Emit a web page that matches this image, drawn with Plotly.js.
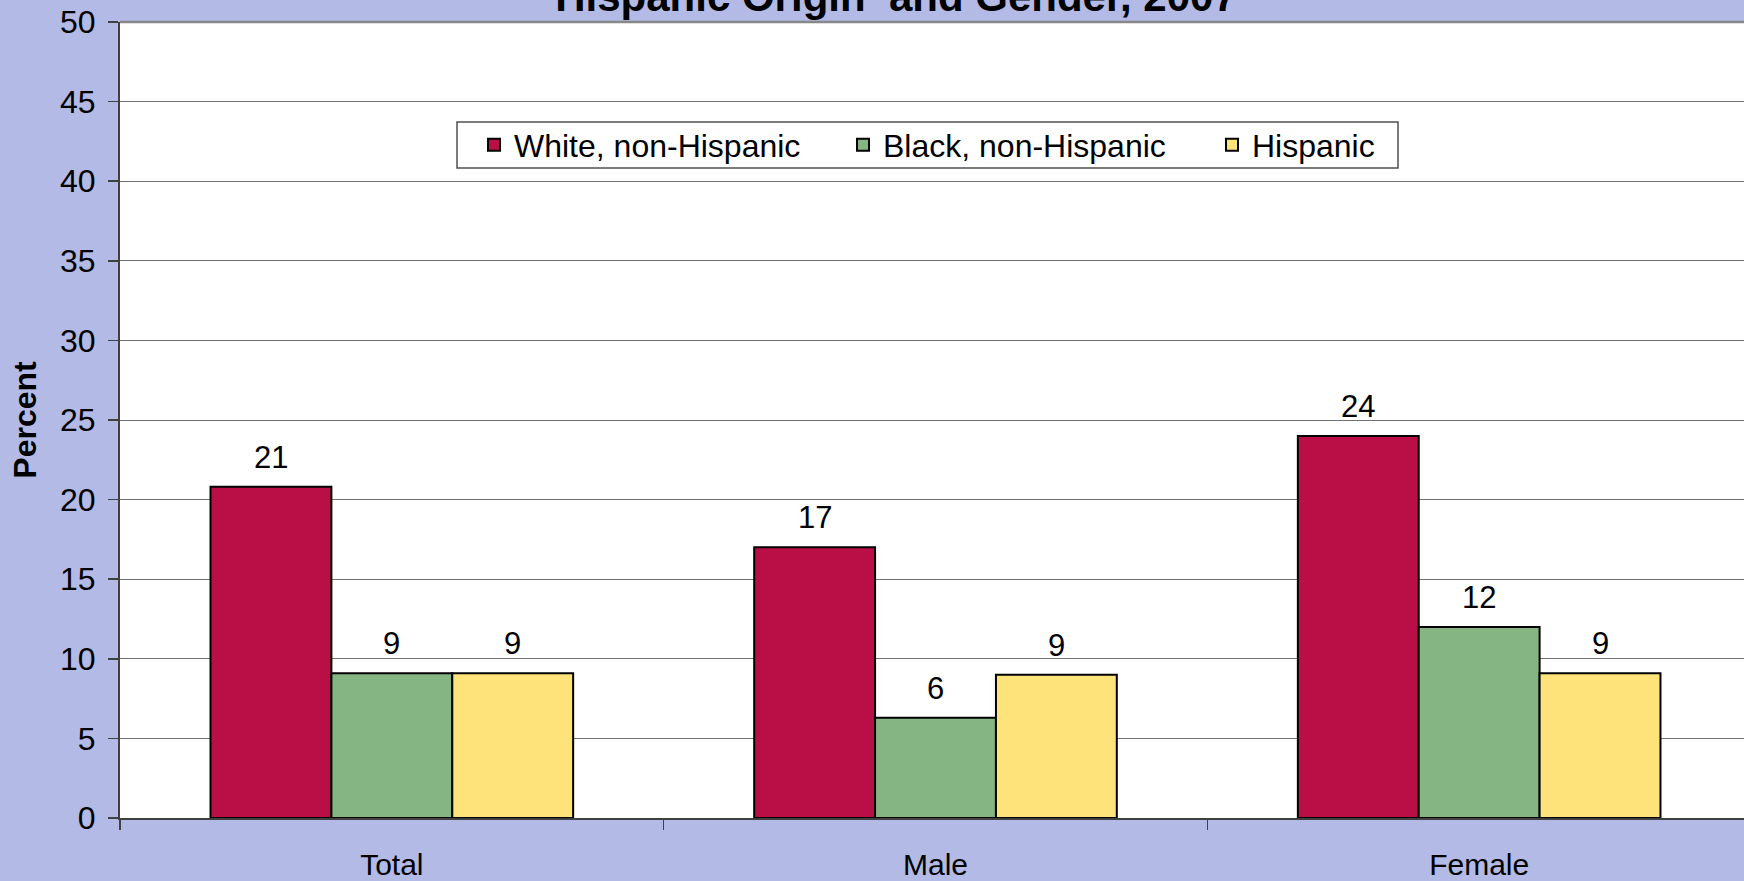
<!DOCTYPE html>
<html>
<head>
<meta charset="utf-8">
<script src="https://cdn.plot.ly/plotly-3.0.1.min.js"></script>
<style>
  html, body { margin: 0; padding: 0; overflow: hidden; background: #b3bae5; }
  #chart { width: 1760px; height: 881px; }
</style>
</head>
<body>
<div id="chart"></div>
<script>
// ---- data ----
const categories = ["Total", "Male", "Female"];
const seriesNames = ["White, non-Hispanic", "Black, non-Hispanic", "Hispanic"];
const whiteValues = [20.8, 17.0, 24.0];
const blackValues = [9.1, 6.3, 12.0];
const hispanicValues = [9.1, 9.0, 9.1];
const yTickValues = [0, 5, 10, 15, 20, 25, 30, 35, 40, 45, 50];
const titleText = "Hispanic Origin  and Gender, 2007";
const yTitleText = "Percent";

// ---- layout geometry (pixels) ----
const W = 1760, H = 881;
const plotL = 120, plotR = 1751, plotT = 22, plotB = 818;
const pw = plotR - plotL, ph = plotB - plotT;
const px2x = p => (p - plotL) / pw;
const py2y = p => 1 - (p - plotT) / ph;

const FONT = "Liberation Sans, Arial, Helvetica, sans-serif";
const colors = ["#b90f46", "#86b584", "#fee37b"];
const valueSets = [whiteValues, blackValues, hispanicValues];
const BARGAP = 0.333;
const barW = (1 - BARGAP) / seriesNames.length;

const traces = seriesNames.map((name, i) => ({
  type: "bar",
  name: name,
  x: categories,
  y: valueSets[i],
  marker: { color: colors[i], line: { color: "#000000", width: 2 } },
  hoverinfo: "x+y+name"
}));

// value labels above bars, placed at each bar's own category slot
const labelAnnotations = [];
valueSets.forEach((vals, s) => {
  vals.forEach((v, c) => {
    labelAnnotations.push({
      xref: "x", yref: "y",
      x: c + (s - (seriesNames.length - 1) / 2) * barW,
      y: v,
      text: String(Math.round(v)),
      showarrow: false,
      xanchor: "center",
      yanchor: "bottom",
      yshift: 10,
      font: { family: FONT, size: 31, color: "#000000" }
    });
  });
});

const layout = {
  width: W,
  height: H,
  autosize: false,
  paper_bgcolor: "#b3bae5",
  plot_bgcolor: "#ffffff",
  font: { family: FONT, size: 30, color: "#000000" },
  margin: { l: plotL, r: W - plotR, t: plotT, b: H - plotB, pad: 0 },
  barmode: "group",
  bargap: BARGAP,
  bargroupgap: 0,
  showlegend: true,
  title: {
    text: titleText,
    font: { family: FONT, size: 42, color: "#000000", weight: "bold" },
    x: 896 / W,
    xanchor: "center",
    xref: "container",
    y: 1 - 11 / H,
    yanchor: "bottom",
    yref: "container"
  },
  legend: {
    orientation: "h",
    x: px2x(474),
    xanchor: "left",
    y: py2y(145),
    yanchor: "middle",
    bgcolor: "rgba(0,0,0,0)",
    borderwidth: 0,
    font: { family: FONT, size: 32, color: "#000000" },
    entrywidth: 324,
    entrywidthmode: "pixels",
    traceorder: "normal"
  },
  xaxis: {
    type: "category",
    range: [-0.5, 2.5],
    showline: true,
    linecolor: "#404040",
    linewidth: 2,
    ticks: "outside",
    tickson: "boundaries",
    ticklen: 10,
    tickwidth: 1.5,
    tickcolor: "#404040",
    showgrid: false,
    zeroline: false,
    ticklabelstandoff: 19,
    tickfont: { family: FONT, size: 30, color: "#000000" },
    fixedrange: true
  },
  yaxis: {
    range: [0, 50],
    tickvals: yTickValues,
    ticktext: yTickValues.map(String),
    showline: true,
    linecolor: "#404040",
    linewidth: 2,
    ticks: "outside",
    ticklen: 10,
    tickwidth: 1.5,
    tickcolor: "#404040",
    showgrid: true,
    gridcolor: "#707070",
    gridwidth: 1,
    zeroline: false,
    ticklabelstandoff: 6,
    tickfont: { family: FONT, size: 32, color: "#000000" },
    title: {
      text: yTitleText,
      font: { family: FONT, size: 32, color: "#000000", weight: "bold" },
      standoff: 14
    },
    fixedrange: true
  },
  annotations: labelAnnotations,
  shapes: [
    {
      type: "rect", xref: "paper", yref: "paper", layer: "above",
      x0: px2x(457), x1: px2x(1398), y0: py2y(168), y1: py2y(122),
      fillcolor: "#ffffff", line: { color: "#505050", width: 1.5 }
    },
    {
      type: "line", xref: "paper", yref: "paper", layer: "above",
      x0: 0, x1: 1, y0: 1, y1: 1,
      line: { color: "#888888", width: 2.5 }
    }
  ]
};

Plotly.newPlot("chart", traces, layout, { displayModeBar: false, staticPlot: true });
</script>
</body>
</html>
